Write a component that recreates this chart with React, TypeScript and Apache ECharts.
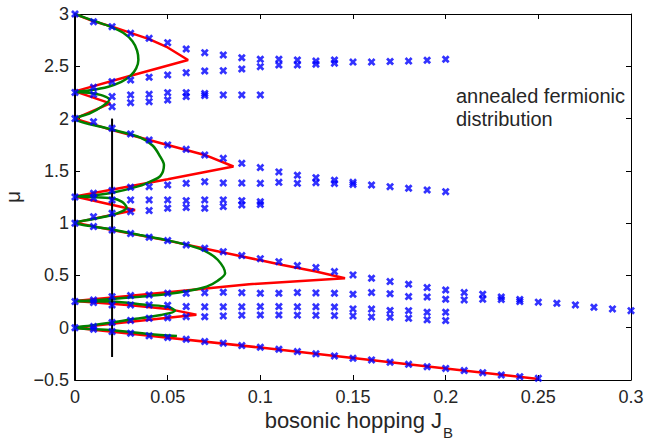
import React, { useEffect, useRef } from "react";
import * as echarts from "echarts";

// ---------- data ----------
const xTicks = [0, 0.05, 0.1, 0.15, 0.2, 0.25, 0.3];
const yTicks = [-0.5, 0, 0.5, 1, 1.5, 2, 2.5, 3];

// blue crosses, grouped by branch: [J_B, mu]
const lobe2Upper = [[0,3],[0.01,2.926],[0.02,2.879],[0.03,2.815],[0.04,2.767],[0.05,2.726],[0.06,2.665],[0.07,2.63],[0.08,2.608],[0.09,2.582],[0.1,2.567],[0.11,2.567],[0.12,2.56],[0.13,2.55],[0.14,2.56],[0.15,2.54],[0.16,2.54],[0.17,2.546],[0.18,2.55],[0.19,2.558],[0.2,2.567]];
const lobe2Lower = [[0,2.25],[0.01,2.299],[0.02,2.353],[0.03,2.369],[0.04,2.395],[0.05,2.417],[0.06,2.439],[0.07,2.455],[0.08,2.458],[0.09,2.474],[0.1,2.496],[0.11,2.512],[0.12,2.512],[0.13,2.52],[0.14,2.53]];
const lobe2MidUpper = [[0.01,2.23],[0.02,2.21],[0.03,2.226],[0.04,2.232],[0.05,2.248],[0.06,2.248],[0.07,2.24],[0.08,2.226],[0.09,2.226],[0.1,2.226]];
const lobe2MidLower = [[0.02,2.114],[0.03,2.152],[0.04,2.162],[0.05,2.178],[0.06,2.21],[0.07,2.22]];
const lobe1Upper = [[0,2],[0.01,1.97],[0.02,1.907],[0.03,1.853],[0.04,1.795],[0.05,1.748],[0.06,1.706],[0.07,1.652],[0.08,1.62],[0.09,1.572],[0.1,1.531],[0.11,1.49],[0.12,1.458],[0.13,1.435],[0.14,1.41],[0.15,1.39],[0.16,1.365],[0.17,1.349],[0.18,1.334],[0.19,1.317],[0.2,1.301]];
const lobe1Lower = [[0,1.25],[0.01,1.286],[0.02,1.311],[0.03,1.343],[0.04,1.349],[0.05,1.365],[0.06,1.381],[0.07,1.397],[0.08,1.385],[0.09,1.383],[0.1,1.381],[0.11,1.39],[0.12,1.381],[0.13,1.387],[0.14,1.38],[0.15,1.37]];
const lobe1MidUpper = [[0.01,1.24],[0.02,1.222],[0.03,1.222],[0.04,1.222],[0.05,1.222],[0.06,1.215],[0.07,1.222],[0.08,1.222],[0.09,1.215],[0.1,1.205]];
const lobe1MidLower = [[0.01,1.062],[0.02,1.094],[0.03,1.11],[0.04,1.12],[0.05,1.142],[0.06,1.15],[0.07,1.142],[0.08,1.158],[0.09,1.174],[0.1,1.178]];
const lobe0Upper = [[0,1],[0.01,0.967],[0.02,0.935],[0.03,0.9],[0.04,0.865],[0.05,0.833],[0.06,0.792],[0.07,0.76],[0.08,0.727],[0.09,0.69],[0.1,0.66],[0.11,0.632],[0.12,0.594],[0.13,0.575],[0.14,0.537],[0.15,0.505],[0.16,0.473],[0.17,0.441],[0.18,0.416],[0.19,0.384],[0.2,0.361],[0.21,0.336],[0.22,0.32],[0.23,0.294],[0.24,0.27],[0.25,0.244],[0.26,0.234],[0.27,0.218],[0.28,0.196],[0.29,0.18],[0.3,0.163]];
const lobe0Lower = [[0,0.25],[0.01,0.265],[0.02,0.297],[0.03,0.307],[0.04,0.314],[0.05,0.33],[0.06,0.33],[0.07,0.335],[0.08,0.339],[0.09,0.335],[0.1,0.33],[0.11,0.33],[0.12,0.336],[0.13,0.333],[0.14,0.33],[0.15,0.32],[0.16,0.336],[0.17,0.325],[0.18,0.298],[0.19,0.294],[0.2,0.272],[0.21,0.266],[0.22,0.272],[0.23,0.27],[0.24,0.25]];
const lobe0MidUpper = [[0.01,0.24],[0.02,0.218],[0.03,0.218],[0.04,0.218],[0.05,0.215],[0.06,0.202],[0.07,0.2],[0.08,0.2],[0.09,0.2],[0.1,0.202],[0.11,0.202],[0.12,0.2],[0.13,0.2],[0.14,0.198],[0.15,0.18],[0.16,0.178],[0.17,0.165],[0.18,0.163],[0.19,0.148],[0.2,0.148]];
const lobe0MidLower = [[0.01,0.012],[0.02,0.05],[0.03,0.07],[0.04,0.09],[0.05,0.095],[0.06,0.106],[0.07,0.105],[0.08,0.113],[0.09,0.12],[0.1,0.122],[0.11,0.122],[0.12,0.12],[0.13,0.118],[0.14,0.116],[0.15,0.113],[0.16,0.103],[0.17,0.1],[0.18,0.09],[0.19,0.075],[0.2,0.068]];
const bottomBranch = [[0,0],[0.01,-0.015],[0.02,-0.037],[0.03,-0.053],[0.04,-0.078],[0.05,-0.094],[0.06,-0.11],[0.07,-0.133],[0.08,-0.148],[0.09,-0.171],[0.1,-0.187],[0.11,-0.206],[0.12,-0.228],[0.13,-0.25],[0.14,-0.27],[0.15,-0.292],[0.16,-0.308],[0.17,-0.33],[0.18,-0.35],[0.19,-0.373],[0.2,-0.389],[0.21,-0.41],[0.22,-0.43],[0.23,-0.452],[0.24,-0.468],[0.25,-0.484]];

// red boundary (one continuous curve)
const redBoundary = [[0,3],[0.01,2.93],[0.02,2.879],[0.03,2.82],[0.04,2.76],[0.05,2.68],[0.061,2.56],[0.03,2.41],[0,2.26],[0.019,2.145],[0,2.0],[0.02,1.89],[0.03,1.843],[0.05,1.748],[0.07,1.652],[0.0855,1.542],[0.05,1.42],[0,1.255],[0.0324,1.126],[0,1.005],[0.02,0.935],[0.05,0.833],[0.08,0.72],[0.1,0.645],[0.112,0.6],[0.13,0.537],[0.1457,0.473],[0.094,0.416],[0.05,0.34],[0,0.255],[0.03,0.215],[0.05,0.18],[0.0655,0.125],[0.03,0.058],[0,0],[0.1,-0.19],[0.2,-0.39],[0.25,-0.49]];

// green boundary (one continuous curve)
const greenBoundary = [[0,3],[0.01,2.935],[0.019,2.88],[0.026,2.82],[0.031,2.74],[0.0335,2.65],[0.0342,2.56],[0.033,2.48],[0.03,2.41],[0.025,2.35],[0.018,2.305],[0.008,2.27],[0,2.255],[0.008,2.245],[0.015,2.22],[0.0185,2.18],[0.015,2.12],[0.008,2.05],[0,2.0],[0.02,1.895],[0.035,1.82],[0.042,1.74],[0.046,1.636],[0.048,1.557],[0.046,1.45],[0.0405,1.397],[0.035,1.356],[0.02,1.29],[0.008,1.262],[0,1.255],[0.008,1.25],[0.0198,1.238],[0.0252,1.206],[0.0279,1.148],[0.025,1.11],[0.0198,1.078],[0.01,1.04],[0,1.005],[0.02,0.94],[0.035,0.887],[0.05,0.835],[0.062,0.785],[0.07,0.735],[0.077,0.65],[0.081,0.52],[0.077,0.45],[0.071,0.393],[0.062,0.355],[0.05,0.322],[0.035,0.297],[0.02,0.275],[0.008,0.26],[0,0.255],[0.0198,0.25],[0.039,0.218],[0.05,0.2],[0.054,0.163],[0.0465,0.122],[0.0306,0.08],[0.0198,0.05],[0.008,0.02],[0,0],[0.02,-0.025],[0.04,-0.06],[0.055,-0.08]];

// black vertical cut
const cutLine = [[0.02,2.0],[0.02,-0.28]];

const annotation = ["annealed fermionic", "distribution"];
const xLabel = "bosonic hopping J";
const xLabelSub = "B";
const yLabel = "μ";

const TEXT = "#262626";
const FONT = "Liberation Sans, Arial, Helvetica, sans-serif";
const CROSS = "path://M0,2.4 L2.4,0 L5,2.6 L7.6,0 L10,2.4 L7.4,5 L10,7.6 L7.6,10 L5,7.4 L2.4,10 L0,7.6 L2.6,5 Z";

export default function App() {
  const ref = useRef<HTMLDivElement>(null);
  useEffect(() => {
    if (!ref.current) return;
    const chart = echarts.init(ref.current, null, { renderer: "svg" });
    const markers = [
      ...lobe2Upper, ...lobe2Lower, ...lobe2MidUpper, ...lobe2MidLower,
      ...lobe1Upper, ...lobe1Lower, ...lobe1MidUpper, ...lobe1MidLower,
      ...lobe0Upper, ...lobe0Lower, ...lobe0MidUpper, ...lobe0MidLower,
      ...bottomBranch,
    ];
    const axisCommon = {
      type: "value" as const,
      splitLine: { show: false },
      axisTick: { show: true, inside: true, length: 5, lineStyle: { color: "#000", width: 1 } },
      axisLine: { show: true, onZero: false, lineStyle: { color: "#000", width: 1 } },
    };
    chart.setOption({
      animation: false,
      backgroundColor: "#fff",
      grid: { left: 75, top: 14, right: 16, bottom: 60, containLabel: false, outerBoundsMode: "none" },
      xAxis: [
        {
          ...axisCommon,
          position: "bottom",
          min: xTicks[0],
          max: xTicks[xTicks.length - 1],
          interval: 0.05,
          axisLabel: {
            color: TEXT, fontSize: 18, fontFamily: FONT, margin: 8,
            formatter: (v: number) => String(+v.toFixed(2)),
          },
        },
        {
          ...axisCommon,
          position: "top",
          min: xTicks[0],
          max: xTicks[xTicks.length - 1],
          interval: 0.05,
          axisLabel: { show: false },
        },
      ],
      yAxis: [
        {
          ...axisCommon,
          position: "left",
          min: yTicks[0],
          max: yTicks[yTicks.length - 1],
          interval: 0.5,
          axisLine: { show: true, onZero: false, lineStyle: { color: "#000", width: 2 } },
          axisLabel: {
            color: TEXT, fontSize: 18, fontFamily: FONT, margin: 6,
            formatter: (v: number) => String(+v.toFixed(2)).replace("-", "\u2212"),
          },
          name: yLabel,
          nameLocation: "middle",
          nameRotate: 90,
          nameGap: 52,
          nameTextStyle: { color: TEXT, fontSize: 21, fontFamily: FONT },
        },
        {
          ...axisCommon,
          position: "right",
          min: yTicks[0],
          max: yTicks[yTicks.length - 1],
          interval: 0.5,
          axisLabel: { show: false },
        },
      ],
      graphic: [
        {
          type: "text", left: 456, top: 84,
          style: { text: annotation.join("\n"), fill: TEXT, font: `20px ${FONT}`, lineHeight: 23 },
        },
        {
          type: "text", x: 442, y: 420,
          style: { text: xLabel, fill: TEXT, font: `22px ${FONT}`, textAlign: "right", textVerticalAlign: "middle" },
        },
        {
          type: "text", x: 443, y: 432,
          style: { text: xLabelSub, fill: TEXT, font: `15px ${FONT}`, textAlign: "left", textVerticalAlign: "middle" },
        },
      ],
      series: [
        {
          type: "line", data: redBoundary, showSymbol: false, symbol: "none", z: 2,
          lineStyle: { color: "#ff0000", width: 2.5 }, xAxisIndex: 0, yAxisIndex: 0,
        },
        {
          type: "line", data: greenBoundary, showSymbol: false, symbol: "none", z: 3, smooth: 0.3,
          lineStyle: { color: "#008000", width: 2.5 }, xAxisIndex: 0, yAxisIndex: 0,
        },
        {
          type: "line", data: cutLine, showSymbol: false, symbol: "none", z: 4,
          lineStyle: { color: "#000", width: 2 }, xAxisIndex: 0, yAxisIndex: 0,
        },
        {
          type: "scatter", data: markers, symbol: CROSS, symbolSize: 8, z: 5,
          itemStyle: { color: "#0000ff" }, xAxisIndex: 0, yAxisIndex: 0,
        },
      ],
    });
    return () => chart.dispose();
  }, []);
  return (
    <div
      ref={ref}
      style={{ position: "fixed", left: 0, top: 0, width: 647, height: 440, background: "#fff" }}
    />
  );
}
